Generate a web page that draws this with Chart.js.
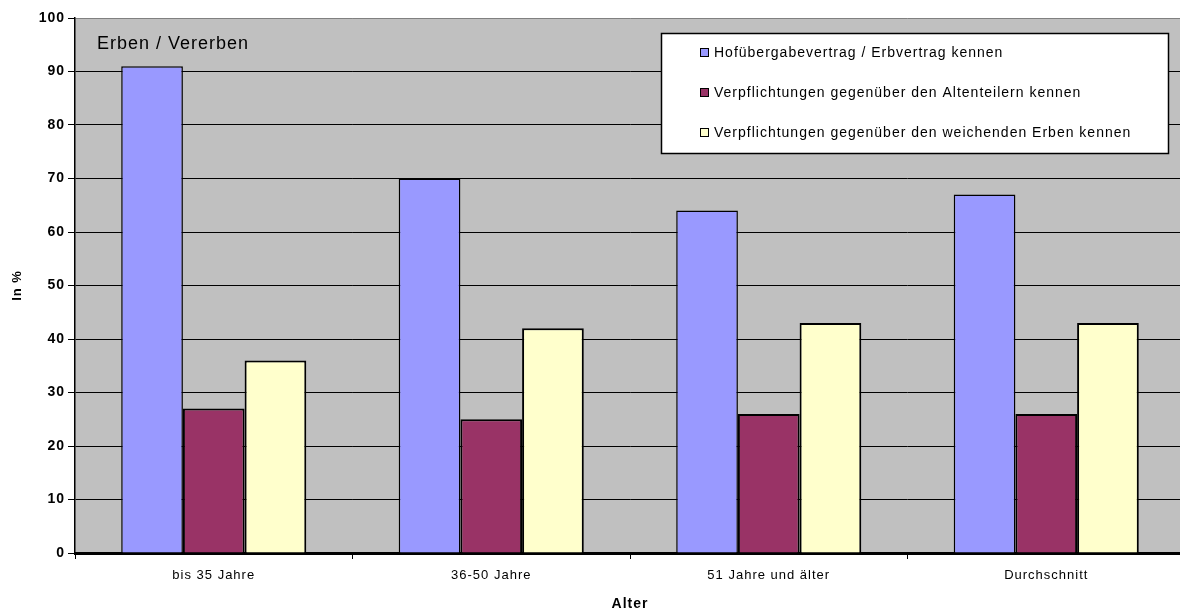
<!DOCTYPE html>
<html>
<head>
<meta charset="utf-8">
<script src="https://cdn.jsdelivr.net/npm/chart.js@4"></script>
<style>
  html, body { margin: 0; padding: 0; background: #fff; overflow: hidden; }
  #wrap { width: 1180px; height: 613px; overflow: hidden; }
</style>
</head>
<body>
<div id="wrap"><canvas id="chart" width="1200" height="613"></canvas></div>
<script>
const categories = ["bis 35 Jahre", "36-50 Jahre", "51 Jahre und älter", "Durchschnitt"];
const seriesNames = [
    "Hofübergabevertrag / Erbvertrag kennen",
    "Verpflichtungen gegenüber den Altenteilern kennen",
    "Verpflichtungen gegenüber den weichenden Erben kennen"
];
const vertrag = [91, 70, 64, 67];
const altenteiler = [27, 25, 26, 26];
const weichende = [36, 42, 43, 43];
const yTicks = [0, 10, 20, 30, 40, 50, 60, 70, 80, 90, 100];
const chartTitle = "Erben / Vererben";

const FONT = "'Liberation Sans', Arial, sans-serif";

const plotBackground = {
    id: 'plotBackground',
    beforeDraw(chart) {
        const a = chart.chartArea;
        const ctx = chart.ctx;
        // the old chart font is wide, so space the letters a bit
        ctx.letterSpacing = '1px';
        ctx.save();
        ctx.fillStyle = '#C0C0C0';
        ctx.fillRect(a.left, a.top, a.right - a.left, a.bottom - a.top);
        ctx.restore();
    },
    afterDraw(chart) {
        chart.ctx.letterSpacing = '0px';
    }
};

// title and legend sit inside the plot area
const insideLegend = {
    id: 'insideLegend',
    afterDatasetsDraw(chart) {
        const a = chart.chartArea;
        const ctx = chart.ctx;
        ctx.save();
        ctx.fillStyle = '#000';
        ctx.font = "18px " + FONT;
        ctx.textBaseline = 'middle';
        ctx.fillText(chartTitle, a.left + 22, 44);

        const bx = 661, by = 33, bw = 507, bh = 120;
        ctx.fillStyle = '#fff';
        ctx.fillRect(bx, by, bw, bh);
        ctx.strokeStyle = '#000';
        ctx.lineWidth = 1.5;
        ctx.strokeRect(bx + 0.5, by + 0.5, bw, bh);

        ctx.font = "14px " + FONT;
        chart.data.datasets.forEach((ds, i) => {
            const cy = by + 19 + i * 40;
            ctx.fillStyle = ds.backgroundColor;
            ctx.fillRect(700, cy - 4, 8, 8);
            ctx.lineWidth = 1;
            ctx.strokeStyle = '#000';
            ctx.strokeRect(700.5, cy - 3.5, 8, 8);
            ctx.fillStyle = '#000';
            ctx.fillText(ds.label, 714, cy + 1);
        });
        ctx.restore();
    }
};

new Chart(document.getElementById('chart'), {
    type: 'bar',
    data: {
        labels: categories,
        datasets: [
            { label: seriesNames[0], data: vertrag, backgroundColor: '#9999FF', borderColor: '#000', borderWidth: 1.5 },
            { label: seriesNames[1], data: altenteiler, backgroundColor: '#993366', borderColor: '#000', borderWidth: 2 },
            { label: seriesNames[2], data: weichende, backgroundColor: '#FFFFCC', borderColor: '#000', borderWidth: 2 }
        ]
    },
    options: {
        responsive: false,
        animation: false,
        devicePixelRatio: 1,
        layout: { padding: { left: 10, top: 18, right: 15, bottom: 0 } },
        datasets: { bar: { categoryPercentage: 0.667, barPercentage: 1 } },
        plugins: {
            legend: { display: false },
            title: { display: false },
            tooltip: { enabled: false }
        },
        scales: {
            x: {
                afterFit(scale) { scale.height = 60; },
                grid: {
                    offset: true,
                    drawOnChartArea: false,
                    drawTicks: true,
                    tickLength: 6,
                    tickColor: '#000'
                },
                border: { color: '#000', width: 3 },
                ticks: { color: '#000', padding: 9, font: { family: FONT, size: 13 } },
                title: {
                    display: true,
                    text: 'Alter',
                    color: '#000',
                    padding: 0,
                    font: { family: FONT, size: 14, weight: 'bold' }
                }
            },
            y: {
                min: 0,
                max: 100,
                afterFit(scale) { scale.width = 65; },
                afterBuildTicks(scale) { scale.ticks = yTicks.map(v => ({ value: v })); },
                grid: {
                    color: ctx => (ctx.tick && ctx.tick.value === 100) ? '#808080' : '#000',
                    lineWidth: 1,
                    drawTicks: true,
                    tickLength: 7,
                    tickColor: '#000'
                },
                border: { color: '#000', width: 1.5 },
                ticks: { color: '#000', padding: 3, font: { family: FONT, size: 14, weight: 'bold' } },
                title: {
                    display: true,
                    text: 'In %',
                    color: '#000',
                    padding: 0,
                    font: { family: FONT, size: 13, weight: 'bold' }
                }
            }
        }
    },
    plugins: [plotBackground, insideLegend]
});
</script>
</body>
</html>
